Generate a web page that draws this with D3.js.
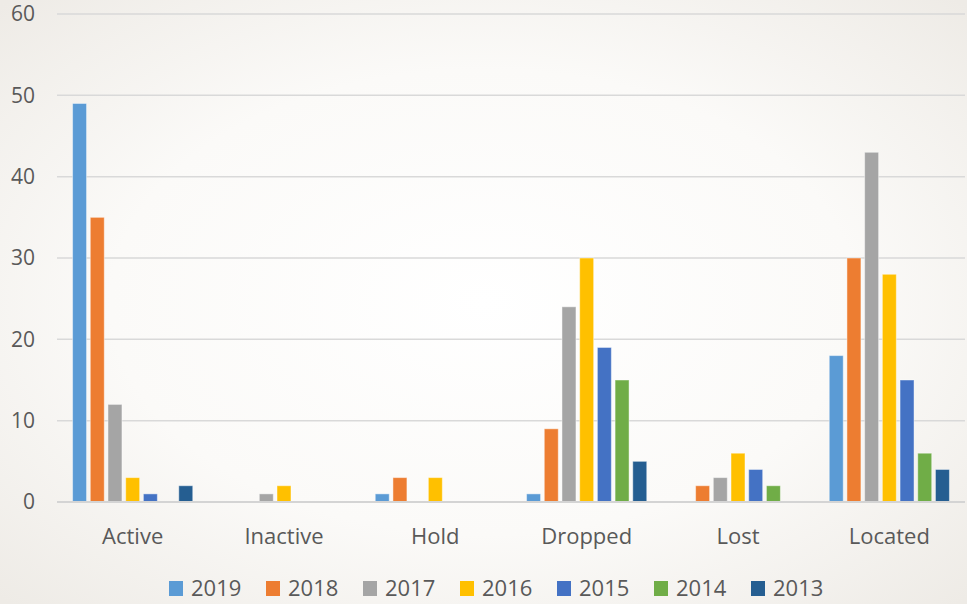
<!DOCTYPE html>
<html>
<head>
<meta charset="utf-8">
<script src="https://cdn.jsdelivr.net/npm/d3@7.9.0/dist/d3.min.js"></script>
<style>
  html, body { margin: 0; padding: 0; }
  svg { display: block; font-family: "Open Sans", sans-serif; }
</style>
</head>
<body>
<svg id="chart" width="967" height="604"></svg>
<script>
const categories = ["Active", "Inactive", "Hold", "Dropped", "Lost", "Located"];
const years = ["2019", "2018", "2017", "2016", "2015", "2014", "2013"];
const colors = ["#5B9BD5", "#ED7D31", "#A5A5A5", "#FFC000", "#4472C4", "#70AD47", "#255E91"];

// one array per year, values in category order
const v2019 = [49, 0, 1, 1, 0, 18];
const v2018 = [35, 0, 3, 9, 2, 30];
const v2017 = [12, 1, 0, 24, 3, 43];
const v2016 = [3, 2, 3, 30, 6, 28];
const v2015 = [1, 0, 0, 19, 4, 15];
const v2014 = [0, 0, 0, 15, 2, 6];
const v2013 = [2, 0, 0, 5, 0, 4];
const yTicks = [0, 10, 20, 30, 40, 50, 60];

const seriesValues = [v2019, v2018, v2017, v2016, v2015, v2014, v2013];

const W = 967, H = 604;
const plotLeft = 57, plotRight = 965, plotTop = 14, plotBottom = 502;

const svg = d3.select("#chart");

// background: soft radial gradient
const defs = svg.append("defs");
const grad = defs.append("radialGradient")
  .attr("id", "bg")
  .attr("cx", "50%").attr("cy", "50%").attr("r", "70%");
grad.append("stop").attr("offset", "0%").attr("stop-color", "#ffffff");
grad.append("stop").attr("offset", "55%").attr("stop-color", "#fbfaf8");
grad.append("stop").attr("offset", "100%").attr("stop-color", "#eeebe6");
svg.append("rect").attr("width", W).attr("height", H).attr("fill", "url(#bg)");

const x0 = d3.scaleBand().domain(categories).range([plotLeft, plotRight]);
const x1 = d3.scaleBand().domain(years).range([0, x0.bandwidth()])
  .paddingInner(0.21).paddingOuter(0.88);
const y = d3.scaleLinear().domain([0, 60]).range([plotBottom, plotTop]);

// gridlines
svg.append("g")
  .selectAll("line")
  .data(yTicks.filter(d => d > 0))
  .join("line")
  .attr("x1", plotLeft).attr("x2", plotRight)
  .attr("y1", d => y(d)).attr("y2", d => y(d))
  .attr("stroke", "#d9d9d9")
  .attr("stroke-width", 1.5);

// y tick labels
svg.append("g")
  .selectAll("text")
  .data(yTicks)
  .join("text")
  .attr("x", 35)
  .attr("y", d => y(d))
  .attr("dy", "0.35em")
  .attr("text-anchor", "end")
  .attr("fill", "#595959")
  .attr("font-size", 21)
  .text(d => d);

// bars
const rows = [];
categories.forEach((c, ci) => {
  years.forEach((yr, si) => {
    rows.push({ cat: c, year: yr, value: seriesValues[si][ci], color: colors[si] });
  });
});

svg.append("g")
  .selectAll("rect")
  .data(rows.filter(d => d.value > 0))
  .join("rect")
  .attr("x", d => x0(d.cat) + x1(d.year))
  .attr("y", d => y(d.value))
  .attr("width", x1.bandwidth())
  .attr("height", d => y(0) - y(d.value))
  .attr("fill", d => d.color)
  .attr("stroke", "rgba(255,255,255,0.45)")
  .attr("stroke-width", 1);

// zero axis line
svg.append("line")
  .attr("x1", plotLeft).attr("x2", plotRight)
  .attr("y1", y(0)).attr("y2", y(0))
  .attr("stroke", "#d4d4d4")
  .attr("stroke-width", 2);

// category labels
svg.append("g")
  .selectAll("text")
  .data(categories)
  .join("text")
  .attr("x", d => x0(d) + x0.bandwidth() / 2)
  .attr("y", 544)
  .attr("text-anchor", "middle")
  .attr("fill", "#595959")
  .attr("font-size", 22)
  .text(d => d);

// legend
const legend = svg.append("g")
  .selectAll("g")
  .data(years)
  .join("g")
  .attr("transform", (d, i) => `translate(${169 + i * 97},0)`);

legend.append("rect")
  .attr("x", 0).attr("y", 581)
  .attr("width", 14).attr("height", 15)
  .attr("fill", (d, i) => colors[i]);

legend.append("text")
  .attr("x", 22).attr("y", 596)
  .attr("fill", "#595959")
  .attr("font-size", 22)
  .text(d => d);
</script>
</body>
</html>
